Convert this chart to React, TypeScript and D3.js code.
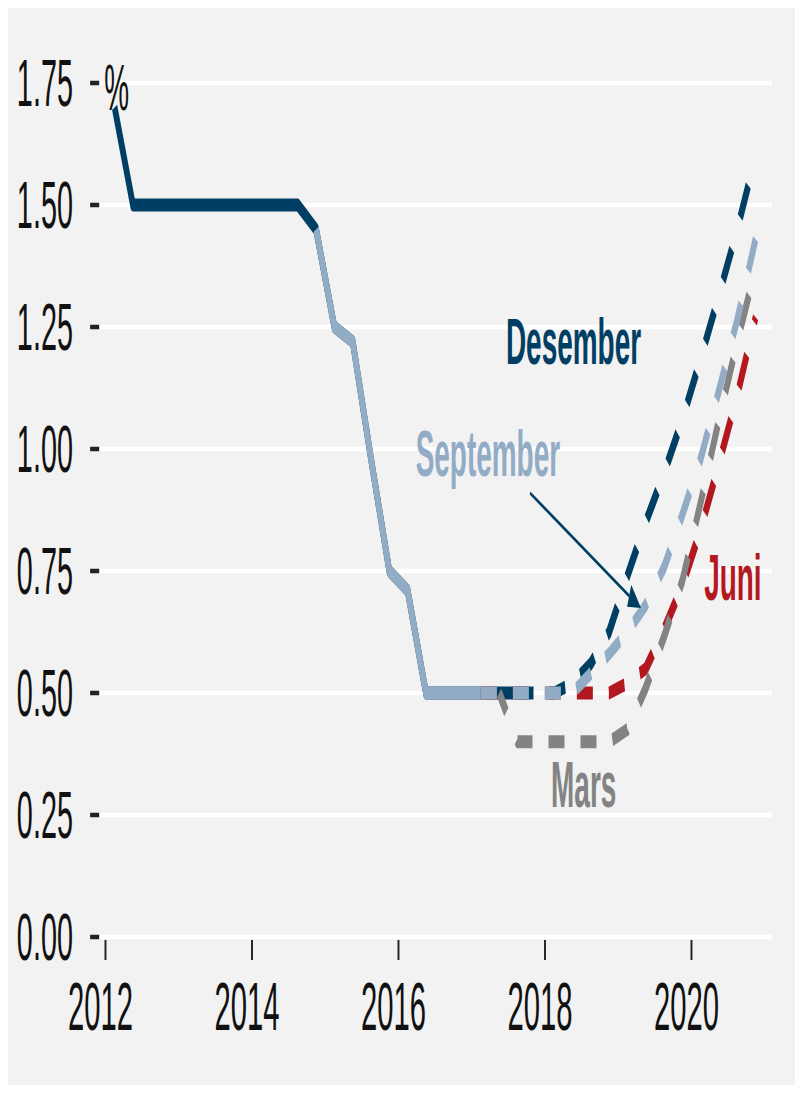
import React from "react";
import * as d3 from "d3";

// ---- data ----
const historyPeriods = [
  "2012Q1","2012Q2","2012Q3","2012Q4",
  "2013Q1","2013Q2","2013Q3","2013Q4",
  "2014Q1","2014Q2","2014Q3","2014Q4",
  "2015Q1","2015Q2","2015Q3","2015Q4",
  "2016Q1","2016Q2","2016Q3","2016Q4",
  "2017Q1","2017Q2","2017Q3",
];
const historyRate = [
  1.70, 1.50, 1.50, 1.50,
  1.50, 1.50, 1.50, 1.50,
  1.50, 1.50, 1.50, 1.45,
  1.25, 1.22, 0.98, 0.75,
  0.71, 0.50, 0.50, 0.50,
  0.50, 0.50, 0.50,
];

const forecastPeriods = [
  "2017Q1","2017Q2","2017Q3","2017Q4",
  "2018Q1","2018Q2","2018Q3","2018Q4",
  "2019Q1","2019Q2","2019Q3","2019Q4",
  "2020Q1","2020Q2","2020Q3","2020Q4",
];
const mars = [null, 0.50, 0.40, 0.40, 0.40, 0.40, 0.40, 0.40, 0.425, 0.51, 0.615, 0.73, 0.89, 1.06, 1.22, 1.37];
const juni = [0.50, 0.50, 0.50, 0.50, 0.50, 0.50, 0.50, 0.50, 0.52, 0.55, 0.63, 0.72, 0.835, 0.97, 1.11, 1.27];
const september = [0.50, 0.50, 0.50, 0.50, 0.50, 0.50, 0.54, 0.58, 0.625, 0.68, 0.757, 0.865, 0.98, 1.12, 1.265, 1.43];
const desember = [null, null, 0.50, 0.50, 0.50, 0.52, 0.56, 0.625, 0.74, 0.85, 0.95, 1.06, 1.185, 1.315, 1.45, 1.60];

const yTicks = [0, 0.25, 0.5, 0.75, 1.0, 1.25, 1.5, 1.75];
const xTicks = [2012, 2014, 2016, 2018, 2020];

// ---- styling ----
const W = 787;
const H = 1077;
const SX = 0.43; // horizontal squeeze of the drawing
const UW = W / SX;
const FONT = "'Liberation Sans', Arial, sans-serif";
const C = {
  bg: "#f2f2f2",
  dark: "#003f63",
  light: "#93acc6",
  red: "#b4181f",
  gray: "#838383",
};

const toT = (p: string) => +p.slice(0, 4) + (+p.slice(5) - 0.5) / 4;

export default function App() {
  const x = d3.scaleLinear().domain([2012, 2020]).range([226.7, 1589.5]);
  const y = d3.scaleLinear().domain([0, 1.75]).range([929, 75]);
  const line = d3
    .line<{ t: number; v: number | null }>()
    .defined((d) => d.v != null)
    .x((d) => x(d.t))
    .y((d) => y(d.v as number));

  const hist = historyPeriods.map((p, i) => ({ t: toT(p), v: historyRate[i] }));
  const histDark = hist;
  const histLight = hist.filter((d) => d.t >= toT("2014Q4") && d.t <= toT("2017Q1"));
  const fc = (vals: (number | null)[]) => forecastPeriods.map((p, i) => ({ t: toT(p), v: vals[i] }));

  const LW = 13;
  const dash = "37.2 37.2";

  // arrow
  const a0 = [1214, 485];
  const a1 = [1472, 600];
  const dx = a1[0] - a0[0], dy = a1[1] - a0[1];
  const len = Math.hypot(dx, dy);
  const ux = dx / len, uy = dy / len;
  const hl = 30, hw = 12;
  const bx = a1[0] - ux * hl, by = a1[1] - uy * hl;
  const head = `${a1[0]},${a1[1]} ${bx - uy * hw},${by + ux * hw} ${bx + uy * hw},${by - ux * hw}`;

  return (
    <svg width={W} height={H} viewBox={`0 0 ${UW} ${H}`} preserveAspectRatio="none" style={{ display: "block" }}>
      <rect x={0} y={0} width={UW} height={H} fill={C.bg} />
      {yTicks.map((v) => (
        <g key={v}>
          <line x1={214} x2={1777} y1={y(v)} y2={y(v)} stroke="#fff" strokeWidth={4.5} />
          <line x1={191} x2={212} y1={y(v)} y2={y(v)} stroke="#222" strokeWidth={4.5} />
          <text x={151} y={y(v) + 23} textAnchor="end" fontFamily={FONT} fontSize={67} fill="#111">
            {v.toFixed(2)}
          </text>
        </g>
      ))}
      {xTicks.map((t) => (
        <g key={t}>
          <line x1={x(t)} x2={x(t)} y1={932} y2={952} stroke="#222" strokeWidth={4.5} />
          <text x={x(t) - 11.6} y={1022} textAnchor="middle" fontFamily={FONT} fontSize={68} fill="#111">
            {t}
          </text>
        </g>
      ))}
      <text x={224} y={102} fontFamily={FONT} fontSize={65} fill="#111">%</text>

      {/* history */}
      <path d={line(histDark) || ""} fill="none" stroke={C.dark} strokeWidth={LW} strokeLinejoin="round" />
      <path d={line(histLight) || ""} fill="none" stroke={C.light} strokeWidth={LW} strokeLinejoin="round" />

      {/* forecasts */}
      <path d={line(fc(juni)) || ""} fill="none" stroke={C.red} strokeWidth={LW} strokeDasharray={dash} strokeLinejoin="round" />
      <path d={line(fc(mars)) || ""} fill="none" stroke={C.gray} strokeWidth={LW} strokeDasharray={dash} strokeDashoffset={12} strokeLinejoin="round" />
      <path d={line(fc(desember)) || ""} fill="none" stroke={C.dark} strokeWidth={LW} strokeDasharray={dash} strokeLinejoin="round" />
      <path d={line(fc(september)) || ""} fill="none" stroke={C.light} strokeWidth={LW} strokeDasharray={dash} strokeLinejoin="round" />

      {/* labels */}
      <text x={1158} y={356} fontFamily={FONT} fontWeight="bold" fontSize={65} fill={C.dark}>Desember</text>
      <text x={948} y={468} fontFamily={FONT} fontWeight="bold" fontSize={65} fill={C.light}>September</text>
      <text x={1619} y={592} fontFamily={FONT} fontWeight="bold" fontSize={65} fill={C.red}>Juni</text>
      <text x={1263} y={799} fontFamily={FONT} fontWeight="bold" fontSize={65} fill={C.gray}>Mars</text>

      <line x1={a0[0]} y1={a0[1]} x2={bx} y2={by} stroke={C.dark} strokeWidth={3.5} />
      <polygon points={head} fill={C.dark} />
    </svg>
  );
}
